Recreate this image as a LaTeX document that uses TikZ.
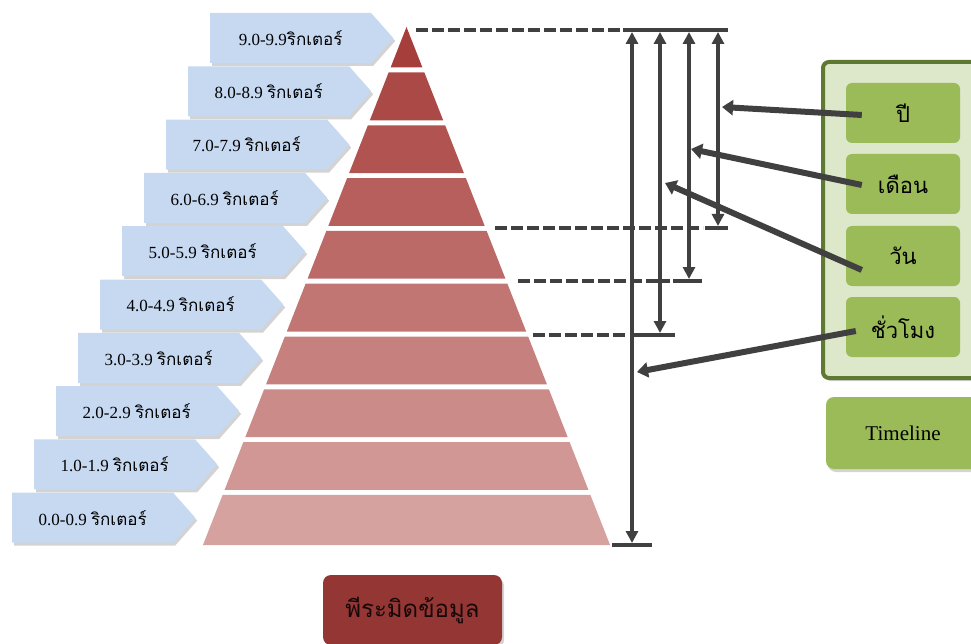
\documentclass[tikz,border=0pt]{standalone}
\usepackage{fontspec}
\setmainfont{Liberation Serif}
\newfontfamily\thaifont[Script=Thai]{Loma}
\usetikzlibrary{arrows.meta}
\usetikzlibrary{shapes.symbols}
\usetikzlibrary{shadows}

\definecolor{pyrtop}{RGB}{166,62,59}
\definecolor{pyrbot}{RGB}{214,162,160}
\definecolor{scalebg}{RGB}{198,217,241}
\definecolor{linegray}{RGB}{64,64,64}
\definecolor{leafgreen}{RGB}{155,187,89}
\definecolor{panelfill}{RGB}{221,231,201}
\definecolor{paneledge}{RGB}{94,121,50}
\definecolor{titlered}{RGB}{148,54,52}

\tikzset{
  softshadow/.style={drop shadow={shadow xshift=2pt, shadow yshift=-3pt, opacity=0.35}},
  scalebox/.style={signal, signal to=east, signal pointer angle=97, fill=scalebg,
    minimum width=183pt, minimum height=50pt, inner sep=2pt, softshadow,
    font=\fontsize{17}{20}\selectfont},
  unitbox/.style={rounded corners=6pt, fill=leafgreen, minimum width=114pt,
    minimum height=60pt, font=\fontsize{22}{26}\selectfont\thaifont},
  dimarrow/.style={{Triangle[width=12pt,length=12pt]}-{Triangle[width=12pt,length=12pt]},
    line width=3.5pt, draw=linegray},
  pointer/.style={-{Triangle[width=15pt,length=11pt]}, line width=6pt, draw=linegray},
  guide/.style={line width=3.5pt, draw=linegray, dash pattern=on 12pt off 4pt},
  tick/.style={line width=3.5pt, draw=linegray}
}

\begin{document}
\begin{tikzpicture}[x=1pt, y=-1pt]
    \useasboundingbox (0,0) rectangle (971,644);

    % Pyramid bands, dark at the tip, light at the base
    \foreach \k in {0,...,9}{
        \pgfmathsetmacro\ya{ifthenelse(\k==0,27,72.5+52.8*(\k-1))}
        \pgfmathsetmacro\yb{ifthenelse(\k==9,545,67.5+52.8*\k)}
        \pgfmathsetmacro\wa{0.393*(\ya-27)}
        \pgfmathsetmacro\wb{0.393*(\yb-27)}
        \pgfmathsetmacro\pct{100*\k/9}
        \fill[pyrbot!\pct!pyrtop] ({406.5-\wa},\ya) -- ({406.5+\wa},\ya)
            -- ({406.5+\wb},\yb) -- ({406.5-\wb},\yb) -- cycle;
    }

    % Magnitude labels beside the bands
    \foreach \i/\num in {0/9.0-9.9, 1/8.0-8.9, 2/7.0-7.9, 3/6.0-6.9, 4/5.0-5.9,
                         5/4.0-4.9, 6/3.0-3.9, 7/2.0-2.9, 8/1.0-1.9, 9/0.0-0.9}{
        \node[scalebox, anchor=west] (mag\i) at ({210-22*\i},{38+53.3*\i})
            {\num\ifnum\i>0\ \fi{\thaifont ริกเตอร์}};
    }

    % Title under the pyramid
    \node[rounded corners=8pt, fill=titlered, minimum width=179pt, minimum height=70pt,
          softshadow, text=black!85!titlered, font=\fontsize{24}{28}\selectfont\thaifont]
          (pyrtitle) at (412.5,610) {พีระมิดข้อมูล};

    % Time unit panel
    \node[rounded corners=6pt, fill=panelfill, draw=paneledge, line width=4pt,
          minimum width=160pt, minimum height=316pt, softshadow] (panel) at (903,220) {};
    \node[unitbox] (year)  at (903,113) {ปี};
    \node[unitbox] (month) at (903,184) {เดือน};
    \node[unitbox] (day)   at (903,256) {วัน};
    \node[unitbox] (hour)  at (903,327) {ชั่วโมง};
    \node[rounded corners=8pt, fill=leafgreen, minimum width=154pt, minimum height=72pt,
          softshadow, font=\fontsize{21}{25}\selectfont] (timeline) at (903,433) {Timeline};

    % Reference levels
    \coordinate (lvtop) at (728,30);
    \coordinate (lvyear) at (728,228);
    \coordinate (lvmonth) at (702,281);
    \coordinate (lvday) at (675,335);
    \coordinate (lvhour) at (652,545);
    \draw[guide] (416,30) -- (620,30);
    \draw[tick] (623,30) -- (lvtop);
    \draw[guide] (495,228) -- (703,228);
    \draw[tick] (705,228) -- (lvyear);
    \draw[guide] (518,281) -- (670,281);
    \draw[tick] (673,281) -- (lvmonth);
    \draw[guide] (533,335) -- (628,335);
    \draw[tick] (630,335) -- (lvday);
    \draw[tick] (612,545) -- (lvhour);

    % Spans for each time unit
    \coordinate (ytop) at (718,32);  \coordinate (ybot) at (718,226);
    \coordinate (mtop) at (689,32);  \coordinate (mbot) at (689,279);
    \coordinate (dtop) at (660,32);  \coordinate (dbot) at (660,333);
    \coordinate (htop) at (632,32);  \coordinate (hbot) at (632,543);
    \draw[dimarrow] (ytop) -- (ybot);
    \draw[dimarrow] (mtop) -- (mbot);
    \draw[dimarrow] (dtop) -- (dbot);
    \draw[dimarrow] (htop) -- (hbot);

    % Pointers from the panel to the spans
    \coordinate (ypt) at (722,107);
    \coordinate (mpt) at (691,149);
    \coordinate (dpt) at (665,183);
    \coordinate (hpt) at (637,372);
    \draw[pointer] ([xshift=16pt,yshift=-2pt]year.west) -- (ypt);
    \draw[pointer] ([xshift=16pt,yshift=-1pt]month.west) -- (mpt);
    \draw[pointer] ([xshift=16pt,yshift=-14pt]day.west) -- (dpt);
    \draw[pointer] ([xshift=10pt,yshift=-4pt]hour.west) -- (hpt);
\end{tikzpicture}
\end{document}
